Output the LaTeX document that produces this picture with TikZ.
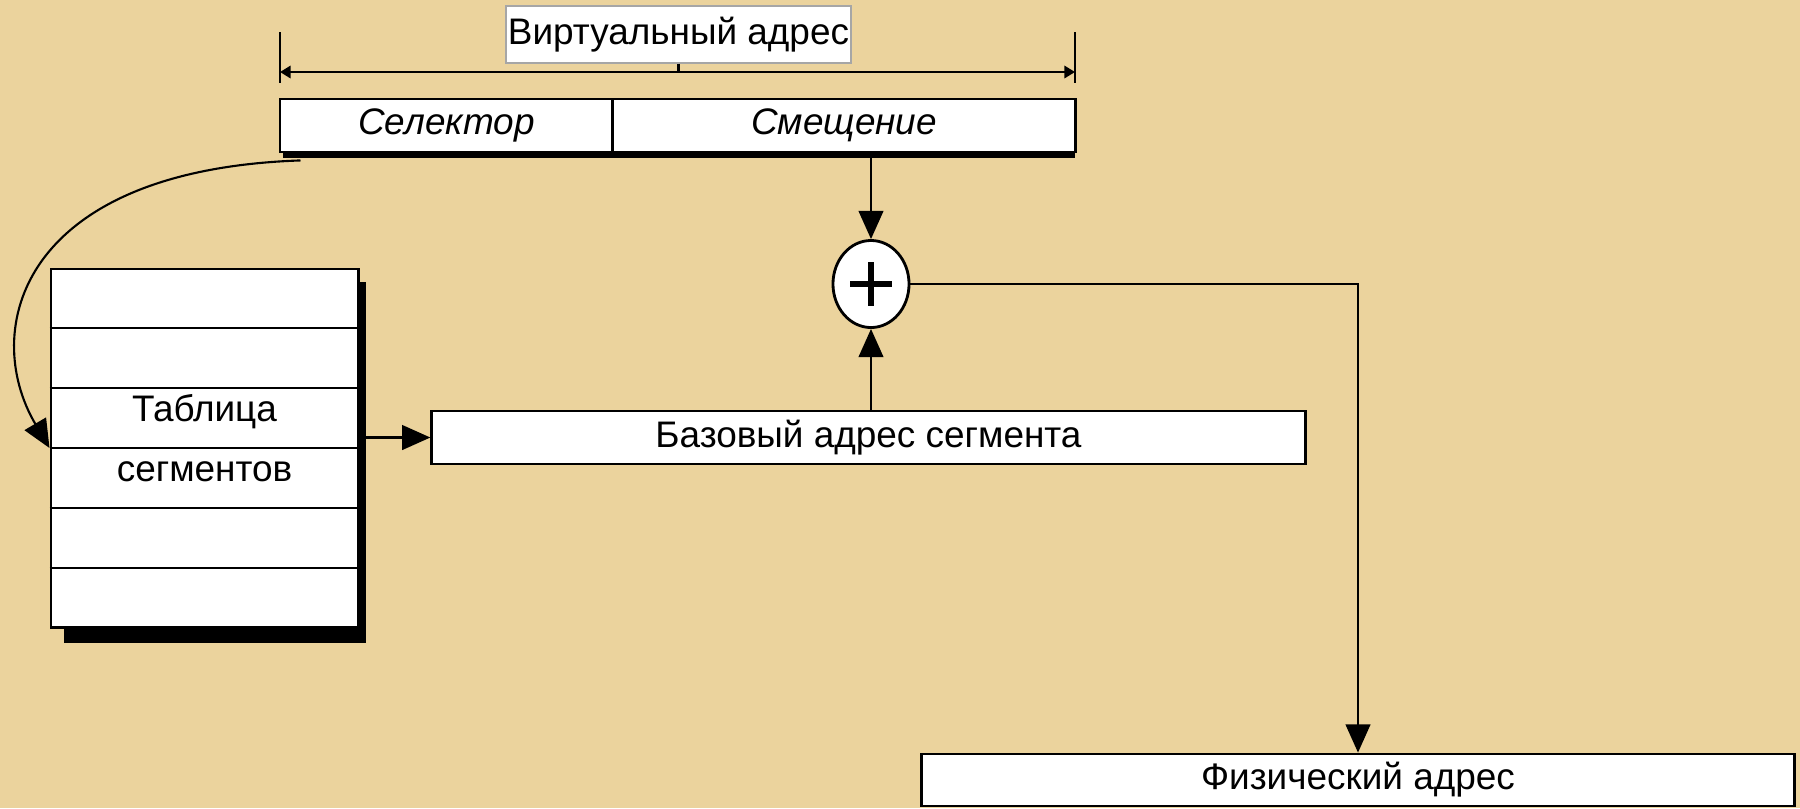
\documentclass[tikz,border=0pt]{standalone}
\usepackage{fontspec}
\setmainfont{Liberation Sans}
\usetikzlibrary{arrows.meta,calc,shapes.geometric}
\definecolor{papyrus}{RGB}{235,211,157}
\begin{document}
\begin{tikzpicture}[x=0.01cm,y=-0.01cm,
  font=\fontsize{10.5}{12}\selectfont,
  wbox/.style={draw=black,line width=0.8pt,fill=white,inner sep=0pt,minimum height=0.53cm},
  conn/.style={line width=0.6pt,-{Triangle[length=8pt,width=7pt]}},
  dimline/.style={line width=0.6pt,{Triangle[length=3pt,width=3.5pt]}-{Triangle[length=3pt,width=3.5pt]}},
  thin/.style={line width=0.6pt}
]
\fill[papyrus] (0,0) rectangle (1800,808);
\useasboundingbox (0,0) rectangle (1800,808);

% virtual address label and dimension line
\node[draw=black!35,line width=0.4pt,fill=white,inner sep=0pt,minimum width=3.45cm,minimum height=0.57cm] (vlabel) at (678.5,34.5) {Виртуальный адрес};
\coordinate (dl) at (280,72);
\coordinate (dr) at (1075,72);
\draw[thin] (280,32) -- (280,83);
\draw[thin] (1075,32) -- (1075,83);
\draw[dimline] (dl) -- (dr);
\draw[thin] (vlabel.south) -- (vlabel.south |- dl);

% selector / offset
\fill[black] (283,106) rectangle (1075,158);
\node[wbox,minimum width=3.33cm] (sel) at (446.5,125.5) {\itshape Селектор};
\node[wbox,minimum width=4.62cm] (off) at (844,125.5) {\itshape Смещение};

% segment table
\fill[black] (64,282) rectangle (366,643);
\node[draw=black,line width=0.8pt,fill=white,minimum width=3.07cm,minimum height=3.58cm,inner sep=0pt] (table) at (204.5,448) {};
\foreach \i in {1,...,5}
  \draw[thin] ($(table.north west)!\i/6!(table.south west)$) -- ($(table.north east)!\i/6!(table.south east)$);
\node[align=center,font=\fontsize{10.5}{17}\selectfont] (tabtext) at ($(table.center)+(0,-10)$) {Таблица\\сегментов};

% base address
\node[wbox,minimum width=8.73cm] (base) at (868.5,437.5) {Базовый адрес сегмента};

% adder
\node[draw=black,line width=0.8pt,fill=white,ellipse,minimum width=0.76cm,minimum height=0.87cm,inner sep=0pt] (circ) at (871,284) {};
\draw[line width=1.7pt] ($(circ.center)+(-21,0)$) -- ($(circ.center)+(21,0)$);
\draw[line width=1.7pt] ($(circ.center)+(0,-22)$) -- ($(circ.center)+(0,22)$);

% physical address
\node[wbox,minimum width=8.72cm,minimum height=0.52cm] (phys) at (1358,780) {Физический адрес};

% connectors
\coordinate (cs) at ($(sel.south west)+(22,7)$);
\draw[conn] (cs) .. controls (20,170) and (-20,330) .. (table.west);
\draw[conn] (table.east |- base.west) -- (base.west);
\draw[conn] (off.south -| circ.north) -- (circ.north);
\draw[conn] (base.north -| circ.south) -- (circ.south);
\draw[conn] (circ.east) -| (phys.north);
\end{tikzpicture}
\end{document}
